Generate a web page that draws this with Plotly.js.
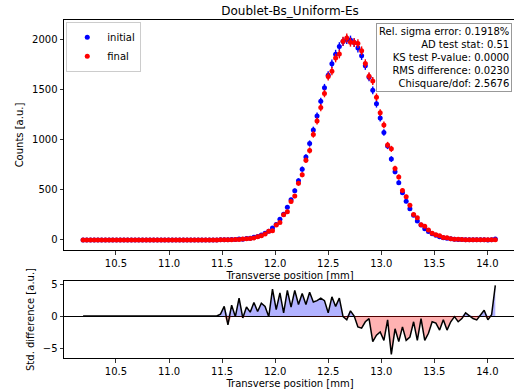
<!DOCTYPE html>
<html><head><meta charset="utf-8">
<script src="https://cdn.plot.ly/plotly-3.0.1.min.js"></script>
<style>html,body{margin:0;padding:0;overflow:hidden;background:#fff}#chart{width:518px;height:392px}</style>
</head><body><div id="chart"></div>
<script>
const chartTitle = 'Doublet-Bs_Uniform-Es';
const position = [10.19,10.225,10.26,10.295,10.33,10.365,10.4,10.435,10.47,10.505,10.54,10.575,10.61,10.645,10.68,10.715,10.75,10.785,10.82,10.855,10.89,10.925,10.96,10.995,11.03,11.065,11.1,11.135,11.17,11.205,11.24,11.275,11.31,11.345,11.38,11.415,11.45,11.485,11.52,11.555,11.59,11.625,11.66,11.695,11.73,11.765,11.8,11.835,11.87,11.905,11.94,11.975,12.01,12.045,12.08,12.115,12.15,12.185,12.22,12.255,12.29,12.325,12.36,12.395,12.43,12.465,12.5,12.535,12.57,12.605,12.64,12.675,12.71,12.745,12.78,12.815,12.85,12.885,12.92,12.955,12.99,13.025,13.06,13.095,13.13,13.165,13.2,13.235,13.27,13.305,13.34,13.375,13.41,13.445,13.48,13.515,13.55,13.585,13.62,13.655,13.69,13.725,13.76,13.795,13.83,13.865,13.9,13.935,13.97,14.005,14.04,14.075];
const initialCounts = [0,0,0,0,0,0,0,0,0,0,0,0,0,0,0,0,0,0,0,0,0,0,0,0,0,0,0,0,0,0,0,0,0,0,0,0,0,
  1,3,2,4,4,10,8,14,17,26,
  34,50,66,86,120,155,205,255,325,400,
  490,590,705,825,960,1095,1235,1380,1515,1640,
  1755,1850,1925,1975,1995,1990,1965,1910,1835,1735,
  1620,1490,1355,1215,1070,935,805,680,570,470,
  385,310,245,190,148,112,84,62,46,33,
  23,16,11,8,5,4,3,2,1,1,
  1,2,0,1,10];
const finalCounts = [0,0,0,0,0,0,0,0,0,0,0,0,0,0,0,0,0,0,0,0,0,0,0,0,0,0,0,0,0,0,0,0,0,0,0,0,0,
  1,2,3,2,4,5,9,11,15,20,
  32,42,59,87,92,148,174,250,282,383,
  437,564,649,794,891,1051,1184,1318,1459,1628,
  1680,1811,1851,1978,2011,1969,1965,1955,1884,1757,
  1630,1583,1421,1267,1145,946,907,711,627,492,
  430,345,253,221,151,136,99,66,51,41,
  25,21,13,8,6,5,2,2,2,2,
  1,1,1,1,1];
const stdDifference = [0,0,0,0,0,0,0,0,0,0,0,0,0,0,0,0,0,0,0,0,0,0,0,0,0,0,0,0,0,0,0,0,0,0,0,0,0,
  0.3,1.5,-1.4,1.7,-0.1,2.8,-0.3,1.4,0.6,2.1,
  0.7,2.0,1.5,-0.1,4.2,1.0,3.6,0.5,4.0,1.4,
  4.0,1.8,3.5,1.8,3.7,2.2,2.4,2.8,2.4,0.5,
  3.0,1.5,2.8,-0.1,-0.6,0.8,0.0,-1.7,-1.9,-0.9,
  -0.4,-4.0,-3.0,-2.5,-3.8,-0.6,-6.0,-2.0,-4.0,-1.7,
  -3.8,-3.3,-0.9,-3.8,-0.4,-3.8,-2.7,-0.9,-1.1,-2.2,
  -0.6,-2.2,-0.9,-0.1,-0.9,-0.4,0.5,0.1,-0.4,-0.6,
  0.2,0.9,-0.6,0.2,4.8];
const seriesNames = ['initial', 'final'];
const statsLines = ['Rel. sigma error: 0.1918%', 'AD test stat: 0.51', 'KS test P-value: 0.0000', 'RMS difference: 0.0230', 'Chisquare/dof: 2.5676'];
const countTicks = [0, 500, 1000, 1500, 2000];
const diffTicks = [-5, 0, 5];
const posTicks = [10.5, 11.0, 11.5, 12.0, 12.5, 13.0, 13.5, 14.0];

const FONT = 'DejaVu Sans, Liberation Sans, sans-serif';
const errTrace = (ys, name, color) => ({
  x: position, y: ys, name: name, type: 'scatter', mode: 'markers',
  marker: {color: color, size: 5},
  error_y: {type: 'data', array: ys.map(v => Math.sqrt(v)), visible: true, color: color, thickness: 1.4, width: 0},
  xaxis: 'x', yaxis: 'y', hoverinfo: 'skip'
});
const posPart = stdDifference.map(v => v > 0 ? v : 0);
const negPart = stdDifference.map(v => v < 0 ? v : 0);
const traces = [
  errTrace(initialCounts, seriesNames[0], '#0000ff'),
  errTrace(finalCounts, seriesNames[1], '#ff0000'),
  {x: position, y: posPart, type: 'scatter', mode: 'lines', fill: 'tozeroy', fillcolor: 'rgba(0,0,255,0.3)', line: {width: 0}, xaxis: 'x2', yaxis: 'y2', showlegend: false, hoverinfo: 'skip'},
  {x: position, y: negPart, type: 'scatter', mode: 'lines', fill: 'tozeroy', fillcolor: 'rgba(255,0,0,0.3)', line: {width: 0}, xaxis: 'x2', yaxis: 'y2', showlegend: false, hoverinfo: 'skip'},
  {x: position, y: stdDifference, type: 'scatter', mode: 'lines', line: {color: '#000', width: 1.5}, xaxis: 'x2', yaxis: 'y2', showlegend: false, hoverinfo: 'skip'}
];
const axBase = {
  showline: true, mirror: true, linecolor: '#000', linewidth: 1, showgrid: false, zeroline: false,
  ticks: 'outside', ticklen: 3.5, tickwidth: 0.8, tickcolor: '#000', automargin: true,
  tickfont: {family: FONT, size: 10, color: '#000'}
};
const xRange = [10.01, 14.27];
const layout = {
  width: 518, height: 392,
  margin: {l: 64, r: 2, t: 20, b: 34},
  paper_bgcolor: '#fff', plot_bgcolor: '#fff',
  font: {family: FONT, size: 10, color: '#000'},
  title: {text: chartTitle, font: {family: FONT, size: 12, color: '#000'}, x: 0.5, xref: 'paper', xanchor: 'center', y: 1 - 11/392, yref: 'container', yanchor: 'middle'},
  xaxis: Object.assign({}, axBase, {domain: [0, 1], anchor: 'y', range: xRange, tickvals: posTicks, tickformat: '.1f',
    title: {text: 'Transverse position [mm]', font: {family: FONT, size: 10, color: '#000'}, standoff: 4}}),
  yaxis: Object.assign({}, axBase, {domain: [0.3195, 1], anchor: 'x', range: [-100, 2190], tickvals: countTicks,
    title: {text: 'Counts [a.u.]', font: {family: FONT, size: 10, color: '#000'}, standoff: 6}}),
  xaxis2: Object.assign({}, axBase, {domain: [0, 1], anchor: 'y2', range: xRange, tickvals: posTicks, tickformat: '.1f',
    title: {text: 'Transverse position [mm]', font: {family: FONT, size: 10, color: '#000'}, standoff: 4}}),
  yaxis2: Object.assign({}, axBase, {domain: [0, 0.2278], anchor: 'x2', range: [-6.56, 5.47], tickvals: diffTicks,
    zeroline: true, zerolinecolor: '#000', zerolinewidth: 1,
    title: {text: 'Std. difference [a.u.]', font: {family: FONT, size: 10, color: '#000'}, standoff: 6}}),
  legend: {x: 0.005, y: 0.995, xanchor: 'left', yanchor: 'top', bgcolor: '#fff', bordercolor: '#ccc', borderwidth: 1,
    font: {family: FONT, size: 10, color: '#000'}, itemwidth: 30},
  annotations: [{
    text: statsLines.join('<br>'), xref: 'paper', yref: 'paper', x: 0.9905, y: 0.991, xanchor: 'right', yanchor: 'top',
    align: 'right', showarrow: false, font: {family: FONT, size: 10, color: '#000'},
    bgcolor: '#fff', bordercolor: '#999', borderwidth: 1, borderpad: 2
  }],
  showlegend: true
};
Plotly.newPlot('chart', traces, layout, {displayModeBar: false, staticPlot: true});
</script></body></html>
